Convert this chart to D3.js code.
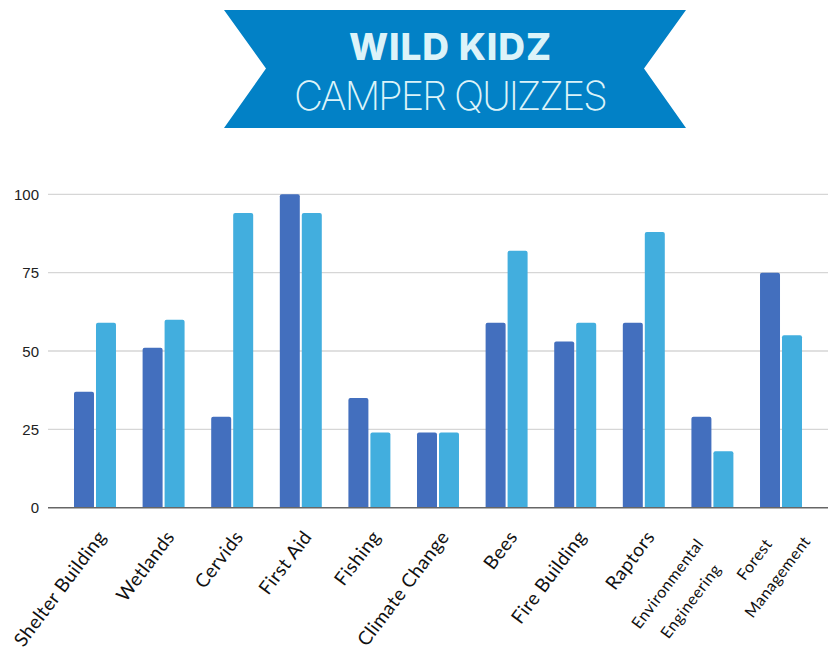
<meta charset="utf-8" />
<style>
	body { margin: 0; background: #fff; }
</style>
<svg width="833" height="656"></svg>
<script src="https://cdn.jsdelivr.net/npm/d3@7"></script>
<script>
	var topics = ['Shelter Building', 'Wetlands', 'Cervids', 'First Aid', 'Fishing', 'Climate Change',
		'Bees', 'Fire Building', 'Raptors', 'Environmental\nEngineering', 'Forest\nManagement'];
	var first = [37, 51, 29, 100, 35, 24, 59, 53, 59, 29, 75];
	var second = [59, 60, 94, 94, 24, 24, 82, 59, 88, 18, 55];
	var yTicks = [0, 25, 50, 75, 100];

	var svg = d3.select('svg');
	var colors = ['#436fbe', '#42aede'];

	// banner
	svg.append('path')
		.attr('d', 'M224,10 L686,10 L644,68.5 L686,128 L224,128 L266,68.5 Z')
		.style('fill', '#0281c6');
	svg.append('text')
		.attr('x', 450).attr('y', 60)
		.attr('text-anchor', 'middle')
		.attr('textLength', 202).attr('lengthAdjust', 'spacing')
		.style('font', '800 37px Inter, sans-serif')
		.style('fill', '#dcf3f9')
		.text('WILD KIDZ');
	svg.append('text')
		.attr('x', 451).attr('y', 109.5)
		.attr('text-anchor', 'middle')
		.attr('textLength', 314).attr('lengthAdjust', 'spacing')
		.style('font', '200 40px Inter, sans-serif')
		.style('fill', '#dcf3f9')
		.text('CAMPER QUIZZES');

	var x = d3.scaleBand().domain(topics).range([48, 828]).paddingInner(0.388).paddingOuter(0.379);
	var xs = d3.scaleBand().domain([0, 1]).range([0, x.bandwidth()]).paddingInner(2 / 22);
	var y = d3.scaleLinear().domain([0, 100]).range([507.7, 194.3]);

	// grid
	svg.append('g').selectAll('line').data(yTicks.slice(1)).join('line')
		.attr('x1', 48).attr('x2', 828)
		.attr('y1', d => y(d)).attr('y2', d => y(d))
		.style('stroke', '#d6d6d6').style('stroke-width', 1.3);

	svg.append('g').selectAll('text').data(yTicks).join('text')
		.attr('x', 39).attr('y', d => y(d) + 5.5)
		.attr('text-anchor', 'end')
		.style('font', '15px "Liberation Sans", Arial, sans-serif')
		.style('fill', '#222')
		.text(d => d);

	function barPath(x0, w, yTop, yBot, r) {
		return 'M' + x0 + ',' + yBot + 'V' + (yTop + r) + 'Q' + x0 + ',' + yTop + ' ' + (x0 + r) + ',' + yTop +
			'H' + (x0 + w - r) + 'Q' + (x0 + w) + ',' + yTop + ' ' + (x0 + w) + ',' + (yTop + r) + 'V' + yBot + 'Z';
	}

	var groups = svg.append('g').selectAll('g').data(topics).join('g')
		.attr('transform', d => 'translate(' + x(d) + ',0)');
	groups.selectAll('path')
		.data((d, i) => [first[i], second[i]])
		.join('path')
		.attr('d', (v, j) => barPath(xs(j), xs.bandwidth(), y(v), y(0), 2))
		.style('fill', (v, j) => colors[j]);

	// baseline
	svg.append('line')
		.attr('x1', 48).attr('x2', 828).attr('y1', y(0)).attr('y2', y(0))
		.style('stroke', '#666').style('stroke-width', 1.5);

	// x labels
	var labels = svg.append('g').selectAll('g').data(topics).join('g')
		.attr('transform', d => {
			var c = x(d) + x.bandwidth() / 2;
			return d.indexOf('\n') < 0
				? 'translate(' + (c + 12) + ',537) rotate(-53)'
				: 'translate(' + (c - 8) + ',544) rotate(-53)';
		});
	labels.each(function (d) {
		var g = d3.select(this);
		var lines = d.split('\n');
		if (lines.length === 1) {
			g.append('text').attr('text-anchor', 'end')
				.style('font', '19px Lato, sans-serif').style('letter-spacing', '0.5px').style('fill', '#111')
				.text(d);
		} else {
			var t0 = g.append('text').attr('text-anchor', 'end')
				.style('font', '16px Lato, sans-serif').style('letter-spacing', '0.5px').style('fill', '#111')
				.text(lines[0]);
			var w0 = t0.node().getComputedTextLength();
			g.append('text').attr('text-anchor', 'middle')
				.attr('x', -w0 / 2).attr('y', 29)
				.style('font', '16px Lato, sans-serif').style('letter-spacing', '0.5px').style('fill', '#111')
				.text(lines[1]);
		}
	});
</script>
